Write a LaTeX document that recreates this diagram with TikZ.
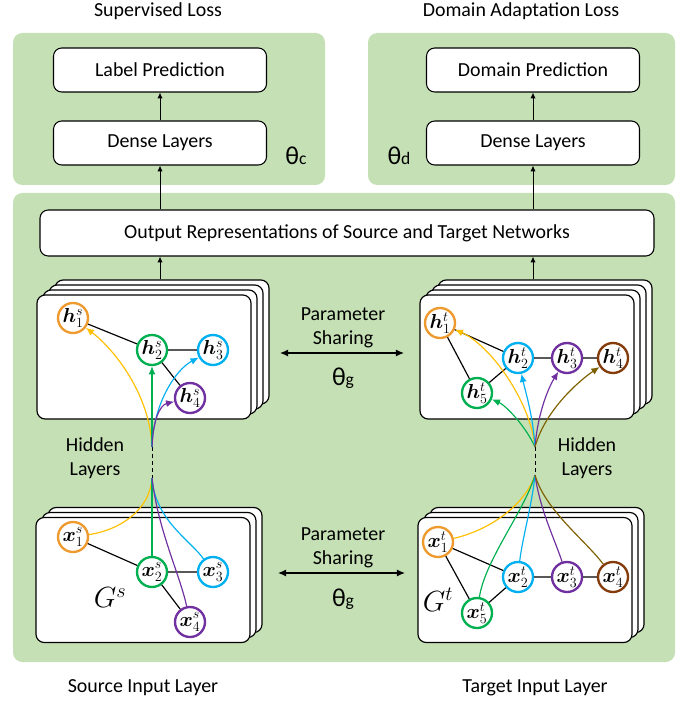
\documentclass[tikz,border=0pt]{standalone}
\usepackage{fontspec}
\setmainfont{Carlito}
\usepackage{bm}
\usetikzlibrary{arrows.meta}
\definecolor{panelgreen}{HTML}{C5E0B4}
\definecolor{vorange}{HTML}{EE9A2E}
\definecolor{vyellow}{HTML}{FFC000}
\definecolor{vgreen}{HTML}{00B050}
\definecolor{vblue}{HTML}{00B0F0}
\definecolor{vpurple}{HTML}{7030A0}
\definecolor{vbrown}{HTML}{843C0C}
\definecolor{volive}{HTML}{7F6000}
\newcommand\thetalbl[1]{θ{\fontsize{15}{15}\selectfont #1}}
\begin{document}
\begin{tikzpicture}[x=0.03cm,y=-0.03cm,
  font=\fontsize{17}{21}\selectfont,
  panel/.style={fill=panelgreen,rounded corners=8pt},
  box/.style={draw,fill=white,rounded corners=7pt,line width=0.9pt,
    minimum width=6.39cm,minimum height=1.32cm},
  card/.style={draw,fill=white,rounded corners=7pt,line width=1pt,
    minimum width=6.42cm,minimum height=3.72cm},
  vert/.style={circle,draw=#1,line width=2pt,fill=white,minimum size=0.9cm,
    inner sep=0pt,font=\fontsize{17}{17}\selectfont},
  link/.style={line width=1pt},
  uparr/.style={-{Latex[length=5pt,width=4.5pt]},line width=0.8pt},
  fan/.style={draw=#1,line width=1pt},
  fanarr/.style={draw=#1,line width=1pt,-{Latex[length=7pt,width=6pt]}},
  theta/.style={font=\fontsize{22}{22}\selectfont}]
\useasboundingbox (0,0) rectangle (684,707);
% green panels
\fill[panel] (13,33) rectangle (325,185);
\fill[panel] (368,33) rectangle (675,185);
\fill[panel] (13,193) rectangle (675,662);
% losses and top boxes
\node (suploss) at (158,11) {Supervised Loss};
\node (domloss) at (521,11) {Domain Adaptation Loss};
\node[box] (labpred) at (160,70) {Label Prediction};
\node[box] (densc) at (160,143) {Dense Layers};
\node[box] (dompred) at (533,70) {Domain Prediction};
\node[box] (densd) at (533,143) {Dense Layers};
\node[theta] (thc) at (296,156) {\thetalbl{c}};
\node[theta] (thd) at (399,156) {\thetalbl{d}};
\node[box,minimum width=18.42cm,minimum height=1.38cm] (outrep) at (347,233)
  {Output Representations of Source and Target Networks};
\draw[uparr] (densc) -- (labpred);
\draw[uparr] (densd) -- (dompred);
\draw[uparr] (outrep.north -| densc) -- (densc);
\draw[uparr] (outrep.north -| densd) -- (densd);
% stacks of graphs
\foreach \k in {3,2,1} {
  \node[card] (hsl\k) at (144+6*\k,357-5*\k) {};
  \node[card] (htl\k) at (527+6*\k,357-5*\k) {};
}
\foreach \k in {2,1} {
  \node[card,minimum height=3.75cm] (xsl\k) at (143+6*\k,580-5*\k) {};
  \node[card,minimum height=3.75cm] (xtl\k) at (525+6*\k,580-5*\k) {};
}
\node[card] (hsl0) at (144,357) {};
\node[card] (htl0) at (527,357) {};
\node[card,minimum height=3.75cm] (xsl0) at (143,580) {};
\node[card,minimum height=3.75cm] (xtl0) at (525,580) {};
\draw[uparr] (hsl3.north -| densc) -- (outrep.south -| densc);
\draw[uparr] (htl3.north -| densd) -- (outrep.south -| densd);
% source hidden layer
\node[vert=vorange] (hs1) at (73,318) {$\bm{h}^{s}_{1}$};
\node[vert=vgreen] (hs2) at (152,350) {$\bm{h}^{s}_{2}$};
\node[vert=vblue] (hs3) at (213,350) {$\bm{h}^{s}_{3}$};
\node[vert=vpurple] (hs4) at (190,398) {$\bm{h}^{s}_{4}$};
\draw[link] (hs1) -- (hs2) (hs2) -- (hs3) (hs2) -- (hs4);
% target hidden layer
\node[vert=vorange] (ht1) at (440,323) {$\bm{h}^{t}_{1}$};
\node[vert=vblue] (ht2) at (518,358) {$\bm{h}^{t}_{2}$};
\node[vert=vpurple] (ht3) at (567,358) {$\bm{h}^{t}_{3}$};
\node[vert=vbrown] (ht4) at (613,358) {$\bm{h}^{t}_{4}$};
\node[vert=vgreen] (ht5) at (477,393) {$\bm{h}^{t}_{5}$};
\draw[link] (ht1) -- (ht2) (ht1) -- (ht5) (ht5) -- (ht2)
  (ht2) -- (ht3) (ht3) -- (ht4);
% source input layer
\node[vert=vorange] (xs1) at (73,537) {$\bm{x}^{s}_{1}$};
\node[vert=vgreen] (xs2) at (152,572) {$\bm{x}^{s}_{2}$};
\node[vert=vblue] (xs3) at (213,572) {$\bm{x}^{s}_{3}$};
\node[vert=vpurple] (xs4) at (190,622) {$\bm{x}^{s}_{4}$};
\draw[link] (xs1) -- (xs2) (xs2) -- (xs3) (xs2) -- (xs4);
\node[font=\fontsize{23}{23}\selectfont] (gs) at (110,598) {$G^{s}$};
% target input layer
\node[vert=vorange] (xt1) at (438,542) {$\bm{x}^{t}_{1}$};
\node[vert=vblue] (xt2) at (518,577) {$\bm{x}^{t}_{2}$};
\node[vert=vpurple] (xt3) at (567,577) {$\bm{x}^{t}_{3}$};
\node[vert=vbrown] (xt4) at (613,577) {$\bm{x}^{t}_{4}$};
\node[vert=vgreen] (xt5) at (477,613) {$\bm{x}^{t}_{5}$};
\draw[link] (xt1) -- (xt2) (xt1) -- (xt5) (xt5) -- (xt2)
  (xt2) -- (xt3) (xt3) -- (xt4);
\node[font=\fontsize{23}{23}\selectfont] (gt) at (438,600) {$G^{t}$};
% fans, source side
\coordinate (fhs) at (152,447);
\coordinate (fxs) at (152,478);
\draw[dashed,line width=0.8pt] (fhs) -- (fxs);
\draw[fanarr=vyellow] (fhs) .. controls (150,395) and (115,350) .. (hs1);
\draw[fanarr=vgreen] (fhs) -- (hs2);
\draw[fanarr=vblue] (fhs) .. controls (153,405) and (175,370) .. (hs3);
\draw[fanarr=vpurple] (fhs) .. controls (153,420) and (160,405) .. (hs4);
\draw[fan=vyellow] (fxs) .. controls (150,510) and (120,530) .. (xs1);
\draw[fan=vgreen] (fxs) -- (xs2);
\draw[fan=vblue] (fxs) .. controls (155,520) and (190,540) .. (xs3);
\draw[fan=vpurple] (fxs) .. controls (158,530) and (180,575) .. (xs4);
% fans, target side
\coordinate (fht) at (535,447);
\coordinate (fxt) at (535,475);
\draw[dashed,line width=0.8pt] (fht) -- (fxt);
\draw[fanarr=vgreen] (fht) .. controls (525,425) and (505,405) .. (ht5);
\draw[fanarr=vyellow] (fht) .. controls (530,400) and (490,345) .. (ht1);
\draw[fanarr=vblue] (fht) .. controls (533,415) and (525,390) .. (ht2);
\draw[fanarr=vpurple] (fht) .. controls (538,410) and (550,385) .. (ht3);
\draw[fanarr=volive] (fht) .. controls (545,410) and (580,380) .. (ht4);
\draw[fan=vyellow] (fxt) .. controls (525,505) and (490,530) .. (xt1);
\draw[fan=vgreen] (fxt) .. controls (525,510) and (485,560) .. (xt5);
\draw[fan=vblue] (fxt) .. controls (532,505) and (522,540) .. (xt2);
\draw[fan=vpurple] (fxt) .. controls (540,510) and (555,540) .. (xt3);
\draw[fan=volive] (fxt) .. controls (545,510) and (585,540) .. (xt4);
% layer labels
\node[align=center] (hidl) at (95,458) {Hidden\\Layers};
\node[align=center] (hidr) at (587,458) {Hidden\\Layers};
\node (srcin) at (143,688) {Source Input Layer};
\node (tgtin) at (535,688) {Target Input Layer};
% parameter sharing
\node[align=center] (psh) at (343,328) {Parameter\\Sharing};
\node[theta] (thgh) at (343,378) {\thetalbl{g}};
\coordinate (pshl) at (280,353);
\coordinate (pshr) at (404,353);
\draw[{Latex[length=7pt,width=6pt]}-{Latex[length=7pt,width=6pt]},line width=1pt] (pshl) -- (pshr);
\node[align=center] (psx) at (343,548) {Parameter\\Sharing};
\node[theta] (thgx) at (343,599) {\thetalbl{g}};
\coordinate (psxl) at (278,573);
\coordinate (psxr) at (405,573);
\draw[{Latex[length=7pt,width=6pt]}-{Latex[length=7pt,width=6pt]},line width=1pt] (psxl) -- (psxr);
\end{tikzpicture}
\end{document}
